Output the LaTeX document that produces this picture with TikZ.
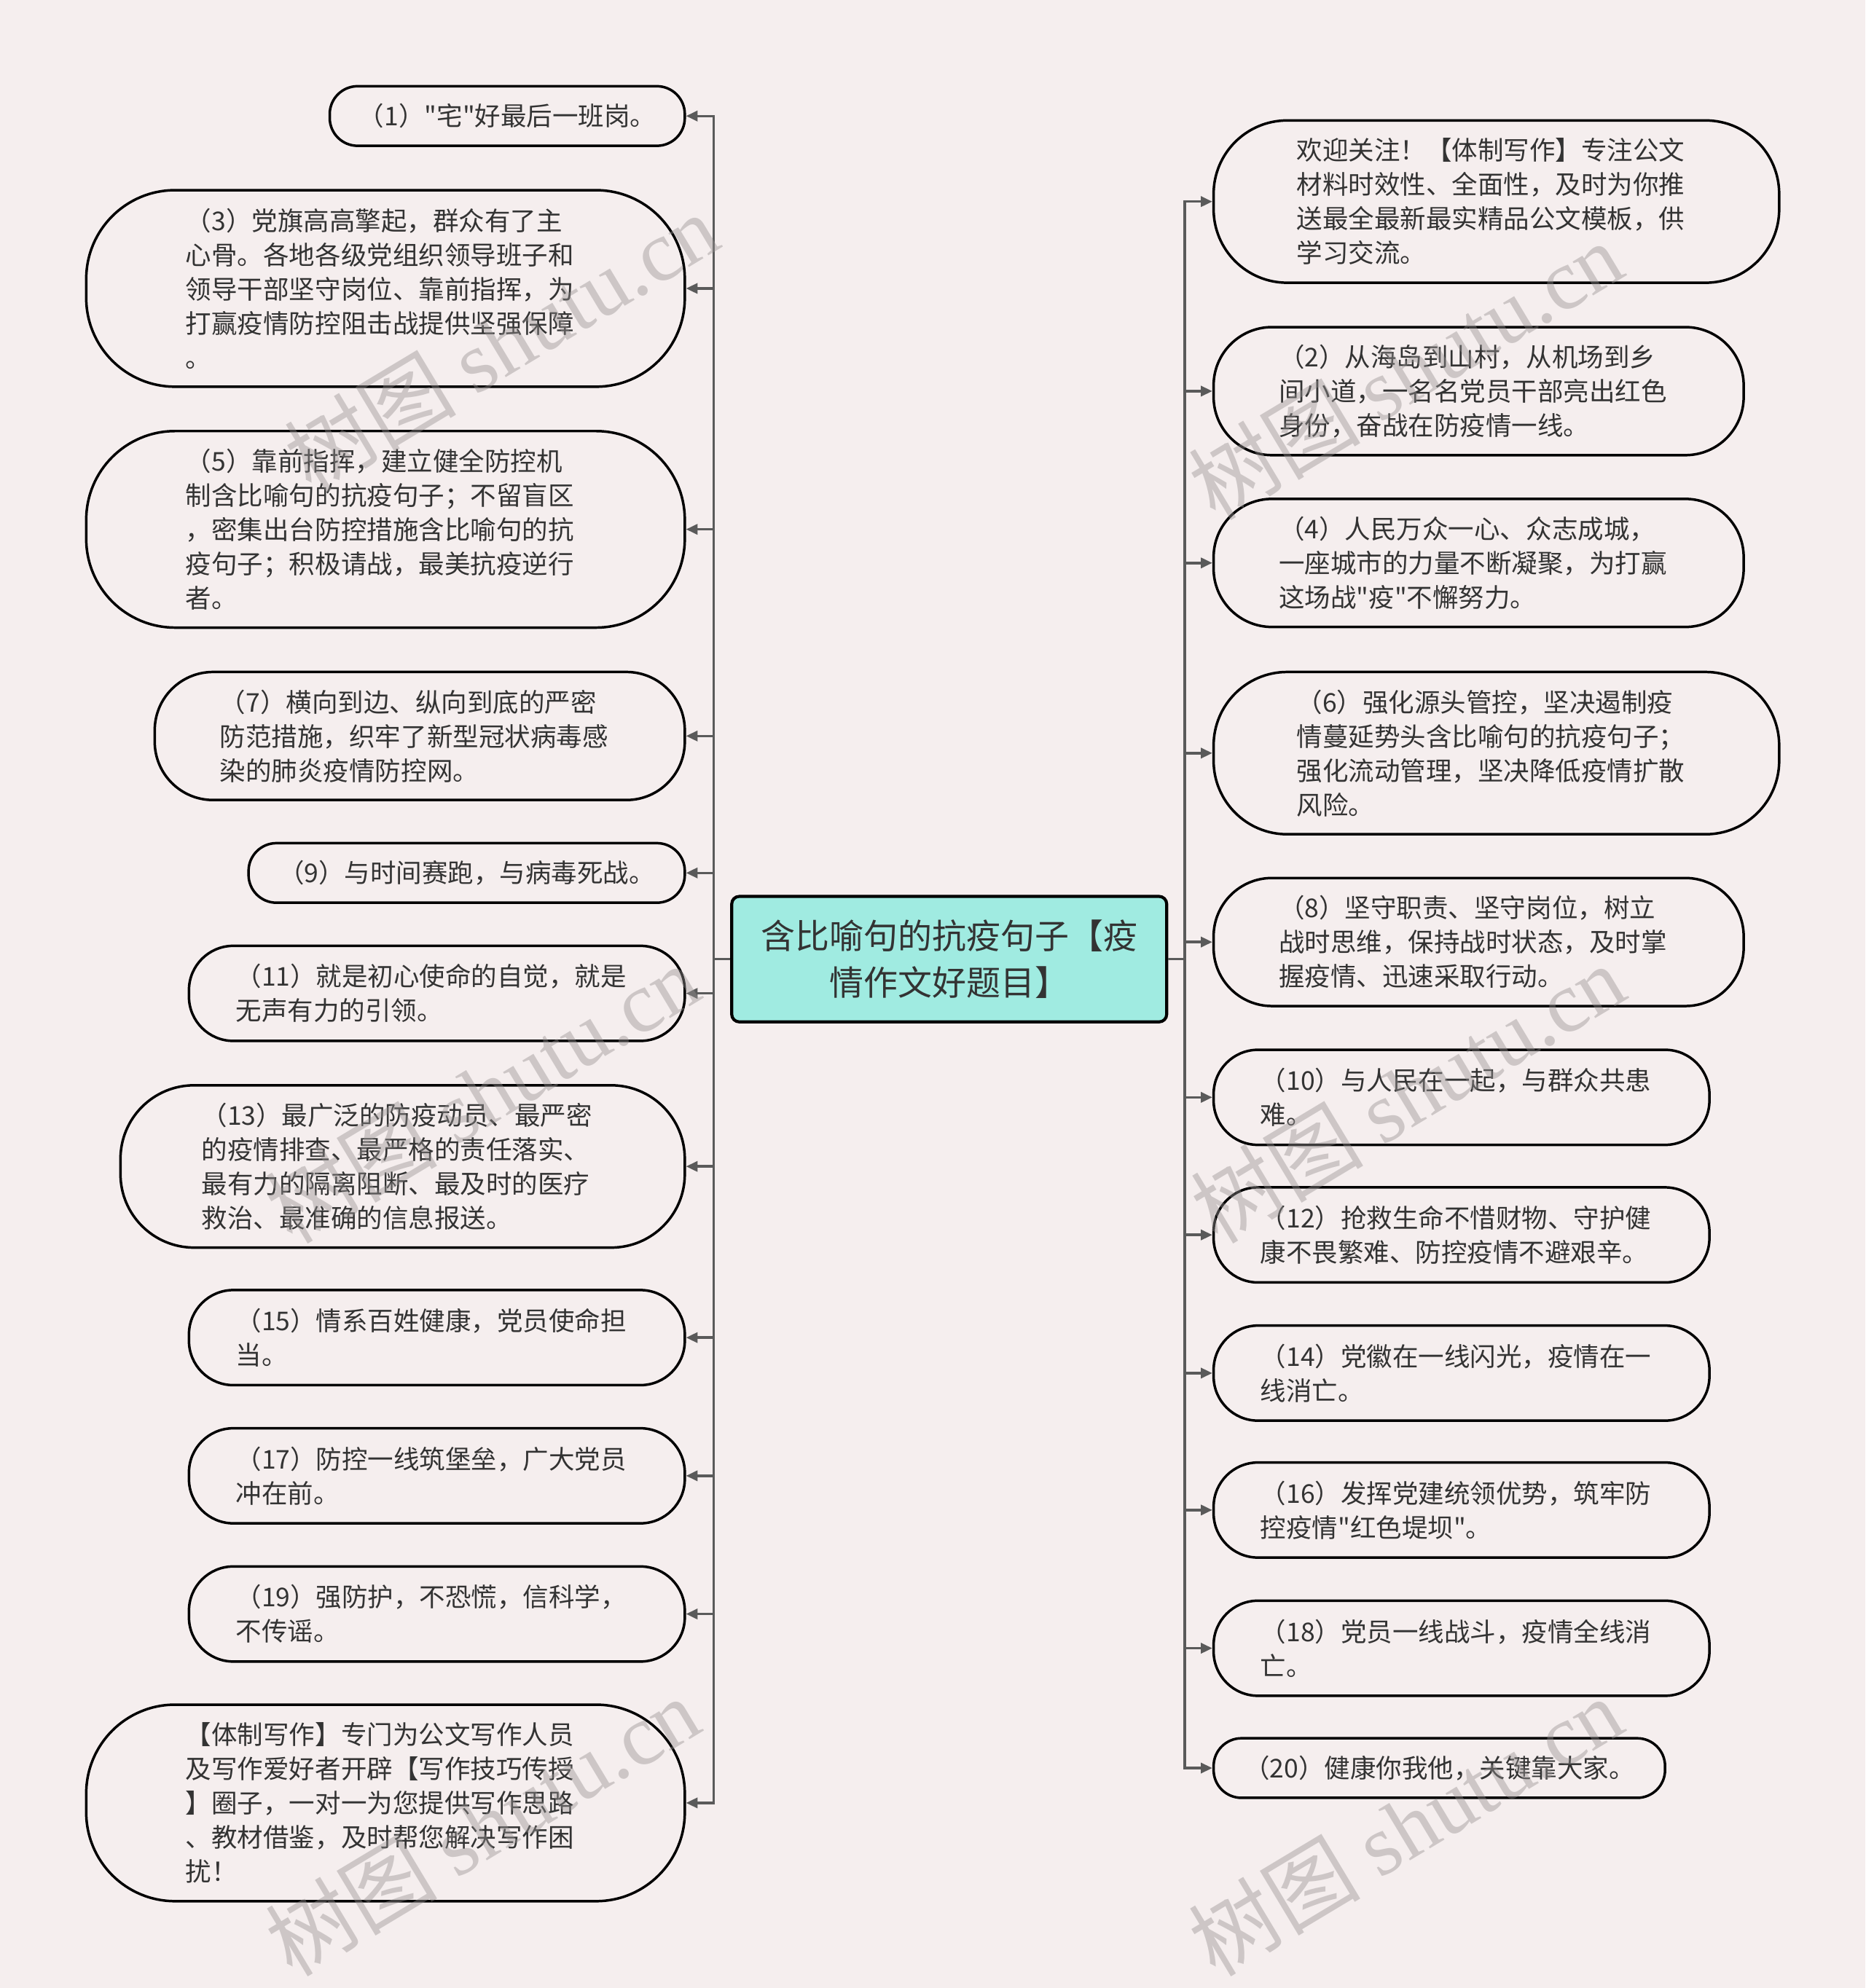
\documentclass[tikz,border=0pt]{standalone}
\usepackage{fontspec}
\setmainfont{Noto Sans CJK SC}
\newfontfamily\cjk{Noto Sans CJK SC}
\newfontfamily\wmfont{Liberation Serif}
\usetikzlibrary{arrows.meta}
\definecolor{bg}{RGB}{245,238,238}
\definecolor{cfill}{RGB}{160,235,225}
\definecolor{txt}{RGB}{51,51,51}
\definecolor{conn}{RGB}{90,90,90}
\definecolor{wm}{RGB}{150,145,145}
% multi-line block, left aligned, padded on the right
\newcommand\tx[1]{\hbox{\vbox{\let\\\cr\halign{##\hfil\cr#1\cr}}\kern4.5pt}}
\begin{document}
\begin{tikzpicture}[x=0.5pt,y=-0.5pt,
  leaf/.style={draw=black, line width=1pt, text=txt, align=left, inner sep=0pt,
    font=\cjk\fontsize{10.2pt}{13.5pt}\selectfont},
  hA/.style={minimum height=23.5pt, rounded corners=11pt},
  hB/.style={minimum height=37.5pt, rounded corners=17.5pt},
  hC/.style={minimum height=50.5pt, rounded corners=23pt},
  hD/.style={minimum height=64pt, rounded corners=29pt},
  hE/.style={minimum height=77.5pt, rounded corners=35pt},
  root/.style={draw=black, line width=1.2pt, fill=cfill, rounded corners=3pt, text=txt,
    align=center, inner sep=0pt, minimum width=171.5pt, minimum height=49.5pt,
    font=\cjk\fontsize{13.5pt}{18.5pt}\selectfont},
  link/.style={draw=conn, line width=1pt, -{Triangle[length=4.5pt,width=4pt]}},
  wmark/.style={text=wm, opacity=0.42, rotate=31, inner sep=0pt,
    font=\cjk\fontsize{34pt}{38pt}\selectfont}
]
\fill[bg] (0,0) rectangle (1471,1568);
\useasboundingbox (0,0) rectangle (1471,1568);

% central node
\node[root] (root) at (748.5,756.5) {含比喻句的抗疫句子【疫\\情作文好题目】};

% left nodes
\node[leaf,hA,minimum width=140pt] (l1) at (400,91.5) {（1）"宅"好最后一班岗。};
\node[leaf,hE,minimum width=236pt] (l3) at (304,227.5) {\tx{（3）党旗高高擎起，群众有了主\\心骨。各地各级党组织领导班子和\\领导干部坚守岗位、靠前指挥，为\\打赢疫情防控阻击战提供坚强保障\\。}};
\node[leaf,hE,minimum width=236pt] (l5) at (304,417.5) {\tx{（5）靠前指挥，建立健全防控机\\制含比喻句的抗疫句子；不留盲区\\，密集出台防控措施含比喻句的抗\\疫句子；积极请战，最美抗疫逆行\\者。}};
\node[leaf,hC,minimum width=209pt] (l7) at (331,580.5) {\tx{（7）横向到边、纵向到底的严密\\防范措施，织牢了新型冠状病毒感\\染的肺炎疫情防控网。}};
\node[leaf,hA,minimum width=172pt] (l9) at (368,688.5) {（9）与时间赛跑，与病毒死战。};
\node[leaf,hB,minimum width=195.5pt] (l11) at (344.5,783.5) {\tx{（11）就是初心使命的自觉，就是\\无声有力的引领。}};
\node[leaf,hD,minimum width=222.5pt] (l13) at (317.5,920) {\tx{（13）最广泛的防疫动员、最严密\\的疫情排查、最严格的责任落实、\\最有力的隔离阻断、最及时的医疗\\救治、最准确的信息报送。}};
\node[leaf,hB,minimum width=195.5pt] (l15) at (344.5,1055) {\tx{（15）情系百姓健康，党员使命担\\当。}};
\node[leaf,hB,minimum width=195.5pt] (l17) at (344.5,1164) {\tx{（17）防控一线筑堡垒，广大党员\\冲在前。}};
\node[leaf,hB,minimum width=195.5pt] (l19) at (344.5,1273) {\tx{（19）强防护，不恐慌，信科学，\\不传谣。}};
\node[leaf,hE,minimum width=236pt] (l21) at (304,1422) {\tx{【体制写作】专门为公文写作人员\\及写作爱好者开辟【写作技巧传授\\】圈子，一对一为您提供写作思路\\、教材借鉴，及时帮您解决写作困\\扰！}};

% right nodes
\node[leaf,hD,minimum width=223pt] (r0) at (1180,159) {\tx{欢迎关注！【体制写作】专注公文\\材料时效性、全面性，及时为你推\\送最全最新最实精品公文模板，供\\学习交流。}};
\node[leaf,hC,minimum width=209pt] (r2) at (1166,308.5) {\tx{（2）从海岛到山村，从机场到乡\\间小道，一名名党员干部亮出红色\\身份，奋战在防疫情一线。}};
\node[leaf,hC,minimum width=209pt] (r4) at (1166,444) {\tx{（4）人民万众一心、众志成城，\\一座城市的力量不断凝聚，为打赢\\这场战"疫"不懈努力。}};
\node[leaf,hD,minimum width=223pt] (r6) at (1180,594) {\tx{（6）强化源头管控，坚决遏制疫\\情蔓延势头含比喻句的抗疫句子；\\强化流动管理，坚决降低疫情扩散\\风险。}};
\node[leaf,hC,minimum width=209pt] (r8) at (1166,743) {\tx{（8）坚守职责、坚守岗位，树立\\战时思维，保持战时状态，及时掌\\握疫情、迅速采取行动。}};
\node[leaf,hB,minimum width=195.5pt] (r10) at (1152.5,865.5) {\tx{（10）与人民在一起，与群众共患\\难。}};
\node[leaf,hB,minimum width=195.5pt] (r12) at (1152.5,974) {\tx{（12）抢救生命不惜财物、守护健\\康不畏繁难、防控疫情不避艰辛。}};
\node[leaf,hB,minimum width=195.5pt] (r14) at (1152.5,1083) {\tx{（14）党徽在一线闪光，疫情在一\\线消亡。}};
\node[leaf,hB,minimum width=195.5pt] (r16) at (1152.5,1191) {\tx{（16）发挥党建统领优势，筑牢防\\控疫情"红色堤坝"。}};
\node[leaf,hB,minimum width=195.5pt] (r18) at (1152.5,1300) {\tx{（18）党员一线战斗，疫情全线消\\亡。}};
\node[leaf,hA,minimum width=178pt] (r20) at (1135,1394.5) {（20）健康你我他，关键靠大家。};

% connectors
\foreach \n in {l1,l3,l5,l7,l9,l11,l13,l15,l17,l19,l21}
  \draw[link] (root.west) -- ++(-13,0) |- (\n.east);
\foreach \n in {r0,r2,r4,r6,r8,r10,r12,r14,r16,r18,r20}
  \draw[link] (root.east) -- ++(13,0) |- (\n.west);

% watermarks
\node[wmark] (wm1) at (395,270) {树图 {\wmfont shutu.cn}};
\node[wmark] (wm2) at (380,862) {树图 {\wmfont shutu.cn}};
\node[wmark] (wm3) at (380,1440) {树图 {\wmfont shutu.cn}};
\node[wmark] (wm4) at (1108,292) {树图 {\wmfont shutu.cn}};
\node[wmark] (wm5) at (1110,862) {树图 {\wmfont shutu.cn}};
\node[wmark] (wm6) at (1108,1440) {树图 {\wmfont shutu.cn}};
\end{tikzpicture}
\end{document}
